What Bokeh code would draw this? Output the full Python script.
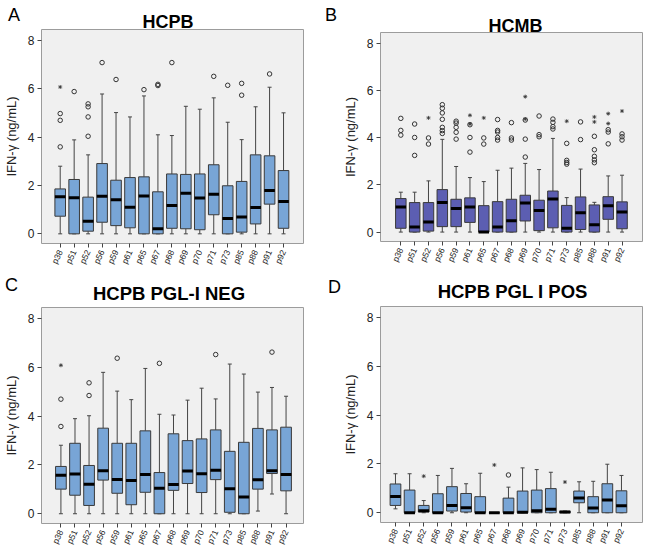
from bokeh.plotting import figure
from bokeh.layouts import column, row
from bokeh.models import Range1d, FixedTicker, Div
from bokeh.embed import file_html
from bokeh.resources import INLINE

cats = ["p38", "p51", "p52", "p56", "p59", "p61", "p65", "p67", "p68",
        "p69", "p70", "p71", "p73", "p85", "p88", "p91", "p92"]
y_ticks = [0, 2, 4, 6, 8]

# Panel A: HCPB
A_low = [0, 0, 0, 0, 0, 0, 0, 0, 0, 0, 0, 0, 0, 0, 0, 0, 0]
A_q1 = [0.73, 0, 0.11, 0.48, 0.34, 0.25, 0, 0, 0.23, 0.21, 0.17, 0.79, 0, 0.07, 0.41, 1.23, 0.23]
A_med = [1.54, 1.49, 0.52, 1.56, 1.41, 1.10, 1.57, 0.21, 1.17, 1.68, 1.48, 1.64, 0.63, 0.70, 1.09, 1.79, 1.34]
A_q3 = [1.86, 2.25, 1.52, 2.91, 2.22, 2.33, 2.36, 1.74, 2.48, 2.46, 2.48, 2.86, 1.99, 2.17, 3.27, 3.23, 2.62]
A_high = [2.80, 3.89, 3.27, 5.79, 5.02, 4.84, 5.71, 4.10, 4.07, 5.28, 5.16, 5.63, 4.62, 3.90, 5.26, 6.07, 5.01]
A_circ = [[3.60, 4.70, 4.98], [5.89], [4.04, 4.84, 5.26, 5.38], [7.09], [6.39], [], [5.97],
          [6.14, 6.19], [7.09], [], [], [6.52], [6.15], [5.74, 6.23], [], [6.62], []]
A_star = [[6.08], [], [], [], [], [], [], [], [], [], [], [], [], [], [], [], []]

# Panel B: HCMB
B_low = [0, 0, 0, 0, 0, 0, 0, 0, 0, 0, 0, 0, 0, 0, 0, 0, 0]
B_q1 = [0.16, 0, 0.04, 0.23, 0.23, 0.41, 0, 0, 0, 0.47, 0.06, 0.18, 0, 0.11, 0, 0.54, 0.14]
B_med = [1.06, 0.21, 0.43, 1.25, 1.00, 1.06, 0.0, 0.21, 0.48, 1.23, 0.91, 1.40, 0.16, 0.82, 0.31, 1.12, 0.85]
B_q3 = [1.42, 1.25, 1.25, 1.80, 1.39, 1.45, 1.12, 1.29, 1.39, 1.56, 1.35, 1.74, 1.13, 1.49, 1.15, 1.50, 1.28]
B_high = [1.69, 1.69, 2.17, 3.93, 2.78, 2.31, 2.14, 2.62, 2.71, 2.91, 2.65, 3.97, 1.46, 2.67, 1.26, 2.38, 2.41]
B_circ = [[4.11, 4.31, 4.82], [3.25, 4.01, 4.58], [3.73, 3.99],
          [4.18, 4.30, 4.44, 4.78, 5.05, 5.25, 5.40], [3.94, 4.23, 4.44, 4.62, 4.70],
          [3.39, 4.01, 4.55], [3.73, 3.99], [3.90, 4.01, 4.24, 4.31, 4.77], [3.90, 3.99, 4.64],
          [3.18, 3.94, 4.75], [4.04, 4.13, 4.92], [4.37, 4.47, 4.65, 4.79], [2.88, 2.95, 3.04, 3.76],
          [3.92, 4.67], [2.94, 3.06, 3.21, 3.49, 4.06], [3.74, 4.24, 4.34], [3.90, 4.04, 4.16]]
B_star = [[], [], [4.84], [], [], [4.58, 4.95], [4.84], [], [], [4.79, 5.74], [], [], [4.70],
          [], [4.67, 4.88], [4.60, 5.02], [5.13]]

# Panel C: HCPB PGL-I NEG
C_low = [0, 0, 0, 0, 0, 0, 0, 0, 0, 0, 0, 0, 0, 0, 0.11, 0.81, 0]
C_q1 = [1.01, 0.76, 0.34, 1.38, 0.84, 0.37, 0.88, 0, 0.96, 1.24, 0.87, 1.40, 0.06, 0, 1.01, 1.65, 0.94]
C_med = [1.58, 1.63, 1.21, 1.76, 1.40, 1.36, 1.61, 1.05, 1.20, 1.75, 1.64, 1.78, 1.03, 0.69, 1.39, 1.76, 1.61]
C_q3 = [1.94, 2.89, 1.98, 3.51, 2.89, 2.89, 3.40, 1.69, 3.28, 3.00, 3.07, 3.44, 2.56, 2.93, 3.50, 3.44, 3.55]
C_high = [2.81, 3.90, 4.02, 5.80, 5.03, 4.68, 5.96, 4.08, 4.05, 4.66, 5.15, 4.71, 6.14, 5.73, 4.99, 5.18, 4.82]
C_circ = [[3.58, 4.70], [], [4.85, 5.37], [], [6.38], [], [], [6.17], [], [], [], [6.53],
          [], [], [], [6.63], []]
C_star = [[6.09], [], [], [], [], [], [], [], [], [], [], [], [], [], [], [], []]

# Panel D: HCPB PGL I POS
D_low = [0.16, 0, 0, 0, 0, 0, 0, 0, 0, 0, 0, 0, 0, 0, 0, 0, 0]
D_q1 = [0.30, 0, 0.03, 0, 0.07, 0.03, 0, 0, 0, 0, 0, 0, 0, 0.41, 0, 0, 0]
D_med = [0.67, 0, 0.08, 0, 0.30, 0.20, 0, 0, 0, 0.02, 0.08, 0.14, 0.03, 0.60, 0.19, 0.52, 0.29]
D_q3 = [1.18, 0.93, 0.30, 0.78, 1.07, 0.79, 0.66, 0.0, 0.60, 0.89, 0.93, 0.99, 0.06, 0.89, 0.66, 1.19, 0.90]
D_high = [1.60, 1.60, 0.50, 1.53, 1.82, 1.19, 1.62, 0.0, 1.05, 1.84, 1.77, 1.66, 0.07, 1.27, 1.29, 1.99, 1.53]
D_circ = [[], [], [], [], [], [], [], [], [1.55], [], [], [], [], [], [], [], []]
D_star = [[], [], [1.50], [], [], [], [], [1.96], [], [], [], [], [1.26], [], [], [], []]

FONT = "Liberation Sans"
LIGHT_BLUE = "#78a5d6"
SLATE = "#5c5eb2"


def header(letter, title, width, height, letter_x, letter_top, title_left, title_width,
           title_top, title_size):
    html = (
        f'<div style="position:relative;width:{width}px;height:{height}px;'
        f"font-family:'{FONT}';color:black;\">"
        f'<span style="position:absolute;left:{letter_x}px;top:{letter_top}px;'
        f'font-size:18px;line-height:14px;font-weight:normal;">{letter}</span>'
        f'<span style="position:absolute;left:{title_left}px;width:{title_width}px;'
        f'top:{title_top}px;text-align:center;font-size:{title_size}px;line-height:14px;'
        f'font-weight:bold;white-space:nowrap;">{title}</span></div>'
    )
    return Div(text=html, width=width, height=height, margin=(0, 0, 0, 0))


def panel(low, q1, med, q3, high, circ, star, fill, xr, width, height, bl, br, bt, bb):
    p = figure(width=width, height=height, x_range=Range1d(*xr),
               y_range=Range1d(-0.4, 8.46), output_backend="svg", title=None,
               toolbar_location=None, min_border_left=bl, min_border_right=br,
               min_border_top=bt, min_border_bottom=bb)
    p.background_fill_color = "#f0f0f0"
    p.border_fill_color = "white"
    p.outline_line_color = "#9c9c9c"
    p.outline_line_width = 1
    p.xgrid.visible = False
    p.ygrid.visible = False

    xs = list(range(len(cats)))
    wl = "#444444"
    p.segment(x0=xs, y0=low, x1=xs, y1=q1, line_color=wl, line_width=1)
    p.segment(x0=xs, y0=q3, x1=xs, y1=high, line_color=wl, line_width=1)
    p.scatter(x=xs, y=high, marker="dash", size=4, line_color=wl, line_width=1)
    p.scatter(x=xs, y=low, marker="dash", size=4, line_color=wl, line_width=1)
    p.vbar(x=xs, width=0.76, bottom=q1, top=q3, fill_color=fill,
           line_color="#3a3a3a", line_width=1)
    p.rect(x=xs, y=med, width=0.76, height=3, height_units="screen",
           fill_color="black", line_color=None)

    cx, cy = [], []
    for i, vals in enumerate(circ):
        for v in vals:
            cx.append(i)
            cy.append(v)
    p.scatter(x=cx, y=cy, marker="circle", size=4.5, fill_color=None,
              line_color="#333333", line_width=1)
    sx, sy = [], []
    for i, vals in enumerate(star):
        for v in vals:
            sx.append(i)
            sy.append(v)
    p.scatter(x=sx, y=sy, marker="asterisk", size=4, line_color="#333333",
              line_width=0.8)

    p.xaxis.ticker = FixedTicker(ticks=xs)
    p.xaxis.major_label_overrides = {i: c for i, c in enumerate(cats)}
    p.xaxis.major_label_orientation = 1.13
    p.xaxis.major_label_text_font_size = "8.5px"
    p.xaxis.major_label_text_line_height = 1.0
    p.yaxis.ticker = FixedTicker(ticks=y_ticks)
    p.yaxis.major_label_text_font_size = "12px"
    for ax in (p.xaxis, p.yaxis):
        ax.axis_line_color = None
        ax.minor_tick_line_color = None
        ax.major_tick_in = 0
        ax.major_tick_out = 4
        ax.major_tick_line_color = "#444444"
        ax.major_label_text_font = FONT
        ax.major_label_text_color = "#222222"
        ax.major_label_standoff = 3
    p.yaxis.axis_label = "IFN-\u03b3 (ng/mL)"
    p.yaxis.axis_label_text_font = FONT
    p.yaxis.axis_label_text_font_style = "normal"
    p.yaxis.axis_label_text_font_size = "13px"
    p.yaxis.axis_label_text_color = "#222222"
    p.yaxis.axis_label_standoff = 6
    return p


hA = header("A", "HCPB", 320, 29, 8, 8, 37, 262, 15, 18)
pA = panel(A_low, A_q1, A_med, A_q3, A_high, A_circ, A_star, LIGHT_BLUE,
           (-1.34, 17.43), 320, 247, 37, 17, 0, 33)
hB = header("B", "HCMB", 326, 32, 5, 8, 66, 259, 19, 18)
pB = panel(B_low, B_q1, B_med, B_q3, B_high, B_circ, B_star, SLATE,
           (-1.47, 17.48), 326, 244, 60, 4, 0, 35)
hC = header("C", "HCPB PGL-I NEG", 320, 31, 5, 2, 38, 262, 11, 18.5)
pC = panel(C_low, C_q1, C_med, C_q3, C_high, C_circ, C_star,
           LIGHT_BLUE, (-1.38, 17.24), 320, 244, 37, 17, 0, 28)
hD = header("D", "HCPB PGL I POS", 326, 30, 8, 4, 63, 259, 9, 18.5)
pD = panel(D_low, D_q1, D_med, D_q3, D_high, D_circ, D_star,
           LIGHT_BLUE, (-1.06, 17.49), 326, 245, 60, 4, 0, 29)

layout = column(row(column(hA, pA), column(hB, pB)),
                row(column(hC, pC), column(hD, pD)))
open("out.html", "w").write(file_html(layout, INLINE))
